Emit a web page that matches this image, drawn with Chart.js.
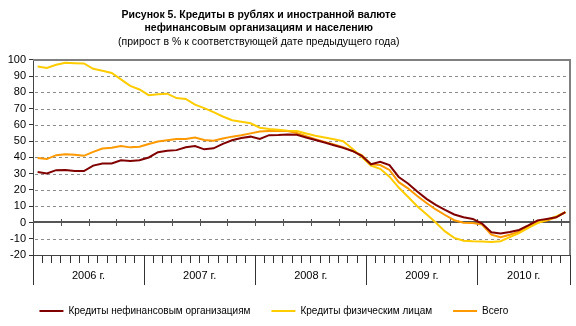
<!DOCTYPE html>
<html lang="ru">
<head>
<meta charset="utf-8">
<script src="https://cdn.jsdelivr.net/npm/chart.js@4/dist/chart.umd.min.js"></script>
<style>
  html, body { margin: 0; padding: 0; background: #fff; }
  #wrap { width: 576px; height: 326px; position: relative; }
</style>
</head>
<body>
<div id="wrap"><canvas id="loans"></canvas></div>
<script>
// years on the category axis and how many months each one has
const yearLabels = ["2006 г.", "2007 г.", "2008 г.", "2009 г.", "2010 г."];
const monthsInYear = [12, 12, 12, 12, 10];

// growth in % against the same date a year earlier, monthly
const orgCredit = [
  31, 30.2, 32.2, 32.3, 31.6, 31.6, 35, 36.3, 36.3, 38.3, 37.8, 38.3,
  40, 43.2, 44.1, 44.5, 46.3, 47, 45, 45.6, 48.4, 50.6, 52, 52.8,
  51.4, 53.7, 53.8, 54.1, 54, 52.3, 50.7, 49.2, 47.5, 45.9, 44, 41,
  35.8, 37.3, 35.3, 28, 24, 19, 14.5, 10.8, 7.7, 4.9, 3.2, 2.2,
  -0.7, -6, -6.8, -5.9, -4.6, -1.8, 1.3, 2.2, 3.2, 6.3
];
const personCredit = [
  96, 95, 97, 98.3, 98, 97.8, 94.5, 93.3, 92, 88, 84, 81.8,
  78.3, 78.8, 79.2, 76.5, 76, 72.5, 70.3, 67.9, 65.2, 62.9, 62, 61,
  58.3, 57.5, 57, 56.5, 56.2, 54.7, 53.3, 52.3, 51.2, 50, 45.3, 40.3,
  35, 33, 28.2, 21.5, 15.8, 10, 5, 0, -5.5, -9.5, -11.2, -11.6,
  -11.7, -12, -11.5, -9, -6.5, -3.3, -0.4, 1.7, 3.7, 6.3
];
const totalCredit = [
  39.7, 39, 41.4, 41.9, 41.6, 41, 43.4, 45.5, 46, 47, 46.2, 46.6,
  48.3, 49.8, 50.6, 51.3, 51.4, 52.2, 50.7, 50.3, 51.6, 52.8, 53.7, 54.8,
  55.9, 56.3, 56.3, 56.3, 55, 53, 51.2, 49.6, 48, 46.3, 44, 41.5,
  35.8, 35.3, 32.3, 24.8, 21, 16.3, 12, 8, 4.6, 1.4, -0.2, -0.3,
  -1.3, -7.5, -9, -7.5, -5.6, -2.4, 0, 1.2, 3.2, 6.3
];

const monthLabels = [];
yearLabels.forEach((yr, i) => {
  for (let m = 1; m <= monthsInYear[i]; m++) monthLabels.push(m + "." + yr);
});

// header and legend sit a little left of the canvas centre
const headPad = " ".repeat(18);
const legendPad = " ".repeat(8);

Chart.defaults.font.family = "'Liberation Sans', Arial, sans-serif";
Chart.defaults.color = "#000";

// dashed value lines, plot frame, zero axis with quarter ticks,
// year separators and year captions
const axisDecor = {
  id: "axisDecor",
  beforeDatasetsDraw(chart) {
    const { ctx, chartArea: a, scales: { x, y } } = chart;
    ctx.save();
    ctx.strokeStyle = "#8c8c8c";
    ctx.lineWidth = 1;
    ctx.setLineDash([3, 3]);
    ctx.beginPath();
    y.ticks.forEach(t => {
      if (t.value === 0 || t.value === y.min || t.value === y.max) return;
      const py = Math.round(y.getPixelForValue(t.value)) + 0.5;
      ctx.moveTo(a.left + 2, py);
      ctx.lineTo(a.right, py);
    });
    ctx.stroke();
    ctx.setLineDash([]);

    ctx.strokeStyle = "#808080";
    ctx.lineWidth = 2;
    ctx.beginPath();
    ctx.moveTo(a.left, a.top);
    ctx.lineTo(a.right, a.top);
    ctx.lineTo(a.right, a.bottom);
    ctx.stroke();

    const y0 = Math.round(y.getPixelForValue(0));
    ctx.strokeStyle = "#555";
    ctx.lineWidth = 2;
    ctx.beginPath();
    ctx.moveTo(a.left, y0);
    ctx.lineTo(a.right, y0);
    ctx.stroke();
    ctx.lineWidth = 1;
    ctx.beginPath();
    for (let q = 3; q < monthLabels.length; q += 3) {
      const px = Math.round(x.getPixelForValue(q - 0.5)) + 0.5;
      ctx.moveTo(px, y0 - 3);
      ctx.lineTo(px, y0 + 4);
    }
    ctx.stroke();
    ctx.restore();
  },
  afterDraw(chart) {
    const { ctx, chartArea: a, scales: { x } } = chart;
    ctx.save();
    ctx.strokeStyle = "#333";
    ctx.lineWidth = 1;
    ctx.font = "11px 'Liberation Sans', Arial, sans-serif";
    ctx.fillStyle = "#000";
    ctx.textAlign = "center";
    ctx.textBaseline = "middle";
    let start = 0;
    yearLabels.forEach((yr, i) => {
      const end = start + monthsInYear[i];
      const x1 = x.getPixelForValue(start - 0.5);
      const x2 = x.getPixelForValue(end - 0.5);
      ctx.beginPath();
      [x1, x2].forEach(px => {
        const p = Math.round(px) + 0.5;
        ctx.moveTo(p, a.bottom);
        ctx.lineTo(p, a.bottom + 30);
      });
      ctx.stroke();
      ctx.fillText(yr, (x1 + x2) / 2, a.bottom + 21);
      start = end;
    });
    ctx.restore();
  }
};

new Chart(document.getElementById("loans"), {
  type: "line",
  data: {
    labels: monthLabels,
    datasets: [{
      label: "Кредиты нефинансовым организациям",
      data: orgCredit,
      borderColor: "#800000",
      backgroundColor: "#800000",
      borderWidth: 2
    }, {
      label: "Кредиты физическим лицам",
      data: personCredit,
      borderColor: "#ffcc00",
      backgroundColor: "#ffcc00",
      borderWidth: 2
    }, {
      label: "Всего" + legendPad,
      data: totalCredit,
      borderColor: "#ff9900",
      backgroundColor: "#ff9900",
      borderWidth: 2
    }]
  },
  options: {
    responsive: true,
    maintainAspectRatio: false,
    animation: false,
    layout: { padding: { left: 0, right: 6, top: 0, bottom: 0 } },
    elements: { point: { radius: 0 }, line: { tension: 0 } },
    plugins: {
      title: {
        display: true,
        text: ["Рисунок 5. Кредиты в рублях и иностранной валюте" + headPad,
               "нефинансовым организациям и населению" + headPad],
        font: { size: 10.5, weight: "bold", lineHeight: 1.3 },
        padding: { top: 8, bottom: 0 }
      },
      subtitle: {
        display: true,
        text: "(прирост в % к соответствующей дате предыдущего года)" + headPad,
        font: { size: 10.5 },
        padding: { top: 1, bottom: 11 }
      },
      legend: {
        position: "bottom",
        labels: {
          usePointStyle: true,
          pointStyle: "line",
          pointStyleWidth: 24,
          padding: 21,
          font: { size: 10 }
        }
      },
      tooltip: { enabled: false }
    },
    scales: {
      x: {
        offset: true,
        grid: {
          offset: true,
          drawOnChartArea: false,
          tickLength: 8,
          color: "#333"
        },
        border: { color: "#444", width: 1 },
        ticks: { display: false },
        afterFit: s => { s.height = 30; }
      },
      y: {
        min: -20,
        max: 100,
        ticks: { stepSize: 10, padding: 3, font: { size: 11 } },
        grid: {
          drawOnChartArea: false,
          color: "#333",
          tickLength: 4
        },
        border: { color: "#444", width: 1 },
        afterFit: s => { s.width = 33; }
      }
    }
  },
  plugins: [axisDecor]
});
</script>
</body>
</html>
